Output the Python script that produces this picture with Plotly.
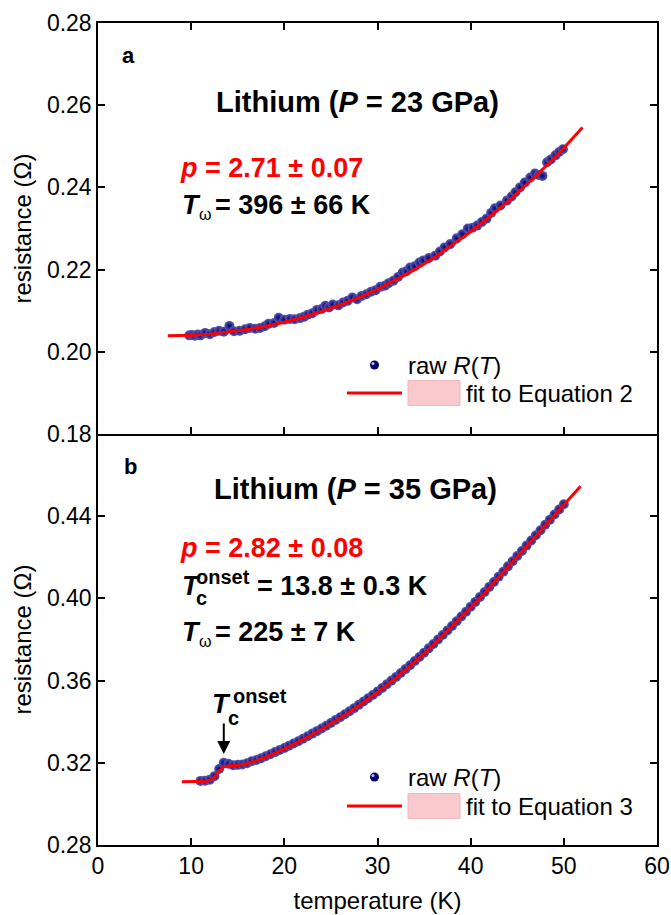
import plotly.graph_objects as go
from plotly.subplots import make_subplots

# ---------------- data ----------------
# Panel a: Lithium, P = 23 GPa
temp_a = [9.8, 10.1, 10.4, 10.7, 11.0, 11.5, 12.0, 12.5, 13.0, 13.5, 14.1, 14.6, 15.2, 15.8,
          16.3, 16.9, 17.4, 17.9, 18.3, 18.9, 19.4, 20.0, 20.6, 21.1, 21.7, 22.1, 22.5, 23.0,
          23.5, 24.0, 24.4, 24.8, 25.2, 25.8, 26.3, 26.8, 27.3, 27.8, 28.3, 28.8, 29.3, 29.8,
          30.3, 30.8, 31.2, 31.7, 32.2, 32.7, 33.1, 33.5, 34.0, 34.5, 34.9, 35.5, 36.2, 36.7,
          37.2, 37.8, 38.5, 39.1, 39.7, 40.2, 40.7, 41.2, 41.7, 42.2, 42.6, 43.2, 43.9, 44.4,
          44.8, 45.3, 45.8, 46.4, 46.9, 47.3, 47.7, 48.2, 48.6, 49.1, 49.5, 49.9]
res_a = [0.2040, 0.2041, 0.2039, 0.2042, 0.2040, 0.2046, 0.2043, 0.2048, 0.2051, 0.2049,
         0.2063, 0.2050, 0.2051, 0.2055, 0.2058, 0.2056, 0.2058, 0.2062, 0.2068, 0.2070,
         0.2083, 0.2078, 0.2080, 0.2079, 0.2082, 0.2085, 0.2090, 0.2094, 0.2102, 0.2104,
         0.2112, 0.2108, 0.2115, 0.2113, 0.2120, 0.2124, 0.2132, 0.2128, 0.2136, 0.2140,
         0.2146, 0.2150, 0.2158, 0.2161, 0.2167, 0.2173, 0.2182, 0.2193, 0.2196, 0.2205,
         0.2208, 0.2217, 0.2222, 0.2228, 0.2234, 0.2244, 0.2254, 0.2262, 0.2276, 0.2286,
         0.2300, 0.2302, 0.2307, 0.2316, 0.2324, 0.2338, 0.2349, 0.2356, 0.2368, 0.2378,
         0.2388, 0.2400, 0.2412, 0.2424, 0.2434, 0.2430, 0.2428, 0.2461, 0.2468, 0.2478,
         0.2486, 0.2493]
fit_temp_a = [7.5, 10, 12, 14, 16, 18, 20, 22, 24, 26, 28, 30, 32, 34, 36, 38, 40, 42, 44,
              46, 48, 50, 52]
fit_res_a = [0.2039, 0.2040, 0.2043, 0.2048, 0.2054, 0.2062, 0.2072, 0.2084, 0.2098, 0.2114,
             0.2132, 0.2152, 0.2175, 0.2200, 0.2228, 0.2259, 0.2292, 0.2328, 0.2366, 0.2407,
             0.2450, 0.2496, 0.2546]

# Panel b: Lithium, P = 35 GPa
temp_b = [11.0, 11.5, 12.0, 12.5, 13.0, 13.5, 14.0, 14.5, 15.0, 15.5, 16.0, 16.5, 17.0, 17.5,
          18.0, 18.5, 19.0, 19.5, 20.0, 20.5, 21.0, 21.5, 22.0, 22.5, 23.0, 23.5, 24.0, 24.5,
          25.0, 25.5, 26.0, 26.5, 27.0, 27.5, 28.0, 28.5, 29.0, 29.5, 30.0, 30.5, 31.0, 31.5,
          32.0, 32.5, 33.0, 33.5, 34.0, 34.5, 35.0, 35.5, 36.0, 36.5, 37.0, 37.5, 38.0, 38.5,
          39.0, 39.5, 40.0, 40.5, 41.0, 41.5, 42.0, 42.5, 43.0, 43.5, 44.0, 44.5, 45.0, 45.5,
          46.0, 46.5, 47.0, 47.5, 48.0, 48.5, 49.0, 49.5, 50.0]
res_b = [0.3112, 0.3113, 0.3118, 0.3135, 0.3170, 0.3200, 0.3195, 0.3188, 0.3190, 0.3192,
         0.3198, 0.3208, 0.3214, 0.3222, 0.3232, 0.3242, 0.3252, 0.3262, 0.3272, 0.3283,
         0.3294, 0.3305, 0.3317, 0.3329, 0.3342, 0.3354, 0.3367, 0.3380, 0.3394, 0.3408,
         0.3422, 0.3436, 0.3451, 0.3466, 0.3482, 0.3498, 0.3514, 0.3530, 0.3547, 0.3564,
         0.3582, 0.3600, 0.3618, 0.3637, 0.3656, 0.3675, 0.3695, 0.3715, 0.3736, 0.3757,
         0.3778, 0.3800, 0.3822, 0.3844, 0.3866, 0.3889, 0.3912, 0.3935, 0.3959, 0.3983,
         0.4007, 0.4031, 0.4056, 0.4080, 0.4105, 0.4130, 0.4156, 0.4181, 0.4206, 0.4231,
         0.4257, 0.4282, 0.4307, 0.4332, 0.4358, 0.4383, 0.4408, 0.4433, 0.4458]
fit_temp_b = [9.0, 11.0, 11.5, 12.0, 12.5, 13.0, 13.5, 14.0, 15.0, 16.0, 18.0, 20.0, 22.0,
              24.0, 26.0, 28.0, 30.0, 32.0, 34.0, 36.0, 38.0, 40.0, 42.0, 44.0, 46.0, 48.0,
              50.0, 51.8]
fit_res_b = [0.3108, 0.3108, 0.3110, 0.3115, 0.3130, 0.3160, 0.3180, 0.3185, 0.3188, 0.3195,
             0.3228, 0.3268, 0.3313, 0.3363, 0.3418, 0.3478, 0.3543, 0.3614, 0.3691, 0.3774,
             0.3862, 0.3955, 0.4052, 0.4152, 0.4253, 0.4354, 0.4455, 0.4546]

x_ticks = [0, 10, 20, 30, 40, 50, 60]
y_ticks_a = [0.18, 0.20, 0.22, 0.24, 0.26, 0.28]
y_ticks_b = [0.28, 0.32, 0.36, 0.40, 0.44]
tc_onset = 13.5

# ---------------- styling ----------------
FONT = "Liberation Sans, Arial, sans-serif"
NAVY = "#00006e"
RED = "#ff0000"
PINK = "#f9c9cd"

# pixel geometry helpers (plot area 98..657 x, 23..845 y)
PL, PR, PT, PB = 98, 657, 23, 845
MID = (PT + PB) / 2


def X(px):
    return (px - PL) / (PR - PL) * 60


def YA(py):
    return 0.28 - (py - PT) / (MID - PT) * 0.10


def YB(py):
    return 0.48 - (py - MID) / (PB - MID) * 0.20


fig = make_subplots(rows=2, cols=1, vertical_spacing=0, shared_xaxes=False)

marker = dict(size=10, color="#5a5ab4", gradient=dict(type="radial", color=NAVY),
              line=dict(width=0))

fig.add_trace(go.Scatter(x=temp_a, y=res_a, mode="markers", marker=marker,
                         name="raw R(T)", showlegend=False), row=1, col=1)
fig.add_trace(go.Scatter(x=fit_temp_a, y=fit_res_a, mode="lines", line=dict(color=RED, width=3),
                         name="fit to Equation 2", showlegend=False), row=1, col=1)
fig.add_trace(go.Scatter(x=temp_b, y=res_b, mode="markers", marker=marker,
                         name="raw R(T)", showlegend=False), row=2, col=1)
fig.add_trace(go.Scatter(x=fit_temp_b, y=fit_res_b, mode="lines", line=dict(color=RED, width=3),
                         name="fit to Equation 3", showlegend=False), row=2, col=1)

tickfont = dict(family=FONT, size=23, color="black")
axis_common = dict(showline=True, linecolor="black", linewidth=1.5, mirror="ticks",
                   ticks="inside", ticklen=7, tickwidth=1.5, tickcolor="black",
                   showgrid=False, zeroline=False, tickfont=tickfont, automargin=False)

fig.update_xaxes(range=[0, 60], tickvals=x_ticks, **axis_common)
fig.update_xaxes(showticklabels=False, row=1, col=1)
# bottom panel: no mirrored top line (the top panel's bottom line serves as border)
fig.update_xaxes(mirror=False,
                 title=dict(text="temperature (K)", font=dict(family=FONT, size=24, color="black"),
                            standoff=14), row=2, col=1)
fig.update_yaxes(range=[0.18, 0.28], tickvals=y_ticks_a, tickformat=".2f",
                 title=dict(text="resistance (Ω)", font=dict(family=FONT, size=24, color="black"),
                            standoff=8),
                 row=1, col=1, **axis_common)
fig.update_yaxes(range=[0.28, 0.48], tickvals=y_ticks_b, tickformat=".2f",
                 title=dict(text="resistance (Ω)", font=dict(family=FONT, size=24, color="black"),
                            standoff=8),
                 row=2, col=1, **axis_common)

# extra top-side axis on the bottom panel, only for its inward ticks
fig.update_layout(xaxis3=dict(overlaying="x2", anchor="y2", side="top", range=[0, 60],
                              tickvals=x_ticks, ticks="inside", ticklen=7, tickwidth=1.5,
                              tickcolor="black", showline=False, showticklabels=False,
                              showgrid=False, zeroline=False, automargin=False))

ann = []


def add_text(text, px, py, panel, size, color="black", xanchor="left"):
    xr, yr, Y = ("x", "y", YA) if panel == "a" else ("x2", "y2", YB)
    ann.append(dict(text=text, x=X(px), y=Y(py), xref=xr, yref=yr,
                    xanchor=xanchor, yanchor="middle", showarrow=False,
                    font=dict(family=FONT, size=size, color=color)))


# panel a texts
add_text("<b>a</b>", 128, 55, "a", 22, xanchor="center")
add_text("<b>Lithium (<i>P</i> = 23 GPa)</b>", 357, 102, "a", 29, xanchor="center")
add_text("<b><i>p</i> = 2.71 ± 0.07</b>", 178, 168, "a", 27, color=RED)
add_text("<b><i>T</i></b>", 180, 205, "a", 27)
add_text("ω", 197, 214, "a", 16)
add_text("<b>= 396 ± 66 K</b>", 213, 205, "a", 27)

# panel b texts
add_text("<b>b</b>", 130, 466, "b", 22, xanchor="center")
add_text("<b>Lithium (<i>P</i> = 35 GPa)</b>", 355, 489, "b", 29, xanchor="center")
add_text("<b><i>p</i> = 2.82 ± 0.08</b>", 178, 548, "b", 27, color=RED)
add_text("<b><i>T</i></b>", 180, 586, "b", 27)
add_text("<b>onset</b>", 194, 577, "b", 20)
add_text("<b>c</b>", 194, 598, "b", 20)
add_text("<b>= 13.8 ± 0.3 K</b>", 255, 586, "b", 27)
add_text("<b><i>T</i></b>", 180, 632, "b", 27)
add_text("ω", 197, 641, "b", 16)
add_text("<b>= 225 ± 7 K</b>", 213, 632, "b", 27)

# Tc onset label near data
add_text("<b><i>T</i></b>", 210, 704, "b", 27)
add_text("<b>onset</b>", 231, 696, "b", 20)
add_text("<b>c</b>", 226, 718, "b", 20)
ann.append(dict(x=tc_onset, y=YB(754), xref="x2", yref="y2", ax=0, ay=-32, text="",
                showarrow=True, arrowhead=2, arrowsize=1.3, arrowwidth=2, arrowcolor="black"))

# legends (drawn by hand)
shapes = []


def legend(panel, mk_py, line_py, label2):
    xr, yr, Y = ("x", "y", YA) if panel == "a" else ("x2", "y2", YB)
    shapes.append(dict(type="circle", xref=xr, yref=yr, x0=X(370), x1=X(379),
                       y0=Y(mk_py - 4.5), y1=Y(mk_py + 4.5),
                       fillcolor=NAVY, line=dict(width=0)))
    shapes.append(dict(type="circle", xref=xr, yref=yr, x0=X(371.5), x1=X(374.5),
                       y0=Y(mk_py - 3), y1=Y(mk_py),
                       fillcolor="#b8b8e8", line=dict(width=0)))
    shapes.append(dict(type="line", xref=xr, yref=yr, x0=X(347), x1=X(402),
                       y0=Y(line_py), y1=Y(line_py), line=dict(color=RED, width=3)))
    shapes.append(dict(type="rect", xref=xr, yref=yr, x0=X(408), x1=X(460),
                       y0=Y(line_py - 12.5), y1=Y(line_py + 12.5),
                       fillcolor=PINK, line=dict(color="#f3b8bd", width=1)))
    add_text("raw <i>R</i>(<i>T</i>)", 406, mk_py, panel, 24)
    add_text(label2, 464, line_py, panel, 24)


legend("a", 365, 393, "fit to Equation 2")
legend("b", 777, 806, "fit to Equation 3")

fig.update_layout(
    width=671, height=915,
    margin=dict(l=PL, r=671 - PR, t=PT, b=915 - PB),
    paper_bgcolor="white", plot_bgcolor="white",
    font=dict(family=FONT, color="black"),
    annotations=ann, shapes=shapes, showlegend=False,
)

fig.write_html("out.html")
